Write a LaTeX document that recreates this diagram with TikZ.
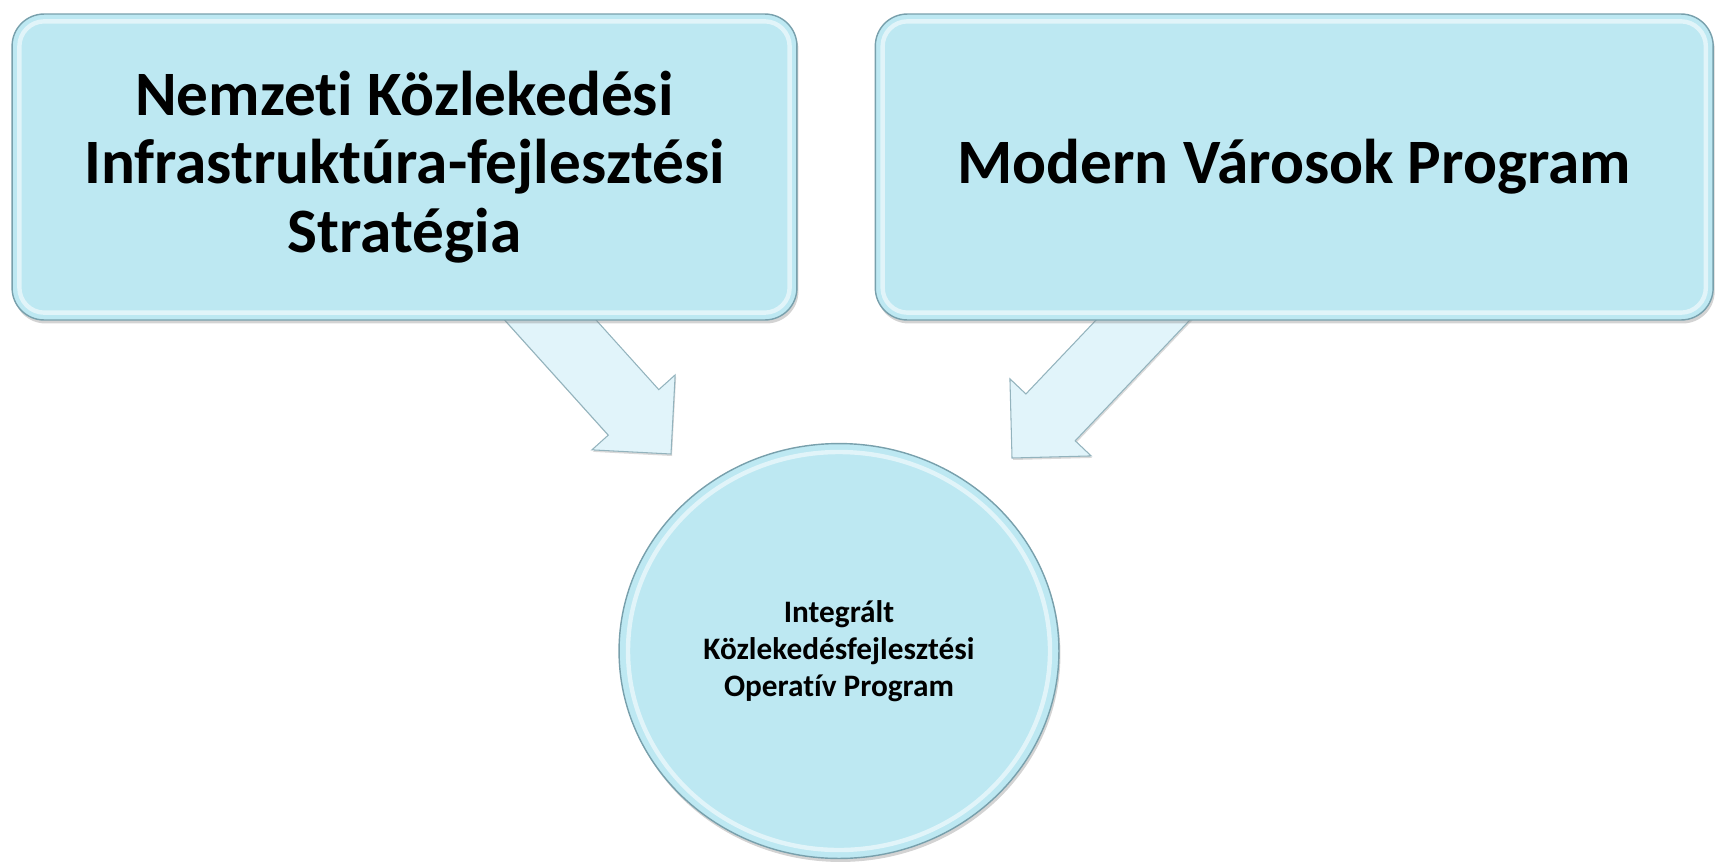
\documentclass[tikz,border=0pt]{standalone}
\usepackage{fontspec}
\setmainfont[Ligatures={NoCommon}]{Carlito}
\usepackage{tikz}
\usetikzlibrary{shapes, arrows.meta, positioning, shadows, backgrounds}
\definecolor{boxblue}{RGB}{189,232,242}
\definecolor{arrowblue}{RGB}{225,244,250}
\definecolor{edgeblue}{RGB}{120,160,172}

\begin{document}
\begin{tikzpicture}[
                        x=0.02cm, y=-0.02cm,
                        tilebox/.style={rectangle, rounded corners=0.64cm, draw=edgeblue, line width=0.8pt,
                          fill=boxblue, align=center, minimum height=6.12cm, inner sep=0pt,
                          drop shadow={shadow xshift=0.03cm, shadow yshift=-0.07cm, opacity=0.35},
                          font=\bfseries\fontsize{36}{39}\selectfont},
                        hubdisc/.style={ellipse, draw=edgeblue, line width=0.8pt, fill=boxblue, align=center,
                          minimum width=8.8cm, minimum height=8.3cm, inner sep=0pt,
                          drop shadow={shadow xshift=0.03cm, shadow yshift=-0.07cm, opacity=0.35},
                          font=\bfseries\fontsize{17.8}{21}\selectfont},
                        bevel/.style={draw=white, opacity=0.55, line width=2.5pt},
                        blockarrow/.style={fill=arrowblue, draw=edgeblue!80, line width=0.6pt,
                          drop shadow={shadow xshift=0.02cm, shadow yshift=-0.04cm, opacity=0.3}}
                        ]

                        \useasboundingbox (0,0) rectangle (1720,862);

                        \node[tilebox, minimum width=15.7cm] (nkis) at (404.5,167)
                          {Nemzeti Közlekedési\\Infrastruktúra-fejlesztési\\Stratégia};
                        \node[tilebox, minimum width=16.76cm, right=1.54cm of nkis] (mvp)
                          {Modern Városok Program};
                        \node[hubdisc] (ikop) at (839,651)
                          {Integrált\\Közlekedésfejlesztési\\Operatív Program};

                        \draw[bevel, rounded corners=0.5cm] ([shift={(8,8)}]nkis.north west) rectangle ([shift={(-8,-8)}]nkis.south east);
                        \draw[bevel, rounded corners=0.5cm] ([shift={(8,8)}]mvp.north west) rectangle ([shift={(-8,-8)}]mvp.south east);
                        \draw[bevel] (ikop.center) ellipse [x radius=211, y radius=199];

                        \begin{scope}[on background layer]
                          \coordinate (tipL) at (671,454);
                          \coordinate (tipR) at (1012,458);
                          \draw[blockarrow, shift={(tipL)}, rotate=-48]
                            (0,0) -- (-56,56) -- (-56,34) -- (-250,34) -- (-250,-34) -- (-56,-34) -- (-56,-56) -- cycle;
                          \draw[blockarrow, shift={(tipR)}, rotate=-133.5]
                            (0,0) -- (-56,56) -- (-56,34) -- (-250,34) -- (-250,-34) -- (-56,-34) -- (-56,-56) -- cycle;
                        \end{scope}
                      \end{tikzpicture}
\end{document}
